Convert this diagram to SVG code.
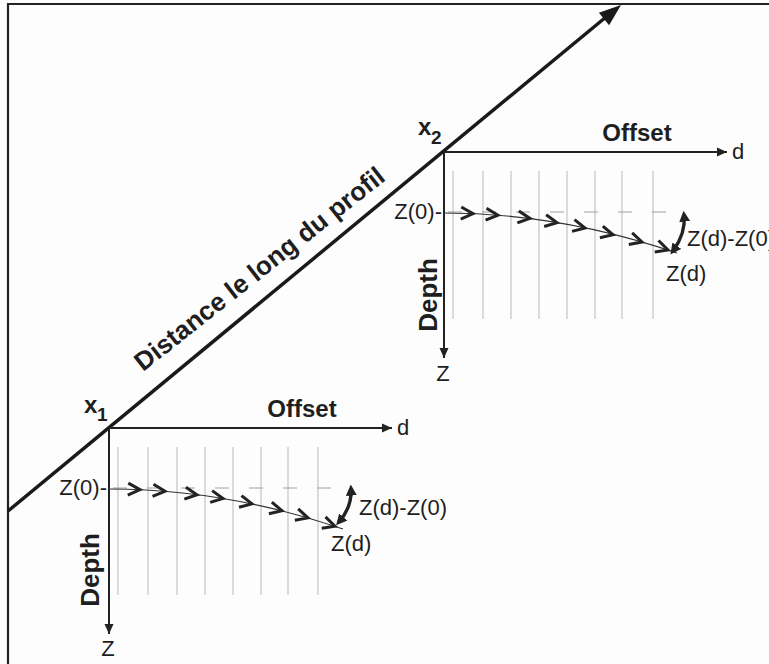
<svg xmlns="http://www.w3.org/2000/svg" width="769" height="664" viewBox="0 0 769 664">
<defs>
<style>
.lbl{font-family:"Liberation Sans",Arial,sans-serif;font-size:22px;fill:#1e1e1e}
.bold{font-family:"Liberation Sans",Arial,sans-serif;font-weight:bold;fill:#1e1e1e}
.axis{stroke:#222;stroke-width:2;fill:none}
.grid{stroke:#b8b8b8;stroke-width:1;fill:none}
.dash{stroke:#a0a0a0;stroke-width:1;stroke-dasharray:14 20;fill:none}
.curve{stroke:#333;stroke-width:1.2;fill:none}
.chev{stroke:#222;stroke-width:3;fill:none;stroke-linejoin:miter;stroke-linecap:butt}
.dbl{stroke:#222;stroke-width:3.4;fill:none;marker-start:url(#hd);marker-end:url(#hd)}
</style>
<marker id="ah" viewBox="0 0 10 10" refX="10" refY="5" markerWidth="10" markerHeight="10" markerUnits="userSpaceOnUse" orient="auto">
<path d="M0,0.5 L10,5 L0,9.5 Z" fill="#222"/>
</marker>
<marker id="hd" viewBox="0 0 10 10" refX="6" refY="5" markerWidth="11" markerHeight="11" markerUnits="userSpaceOnUse" orient="auto-start-reverse">
<path d="M0,0 L10,5 L0,10 Z" fill="#222"/>
</marker>
<path id="chv" d="M-12,-6 L0,0 L-12,6"/>
</defs>
<rect x="0" y="0" width="769" height="664" fill="#fdfdfd"/>
<g id="frame">
<path d="M8,664 L8,4 L769,4" fill="none" stroke="#222" stroke-width="2.2"/>
</g>
<g id="connectors">
<line x1="8" y1="511" x2="606" y2="17" stroke="#1a1a1a" stroke-width="3.5"/>
<polygon points="621,5 609.1,25.2 598.9,12.8" fill="#1a1a1a"/>
</g>
<g id="profile-label">
<text class="bold" font-size="26" transform="translate(143,372) rotate(-38.3)">Distance le long du profil</text>
</g>
<g id="station-x1">
<text class="bold" font-size="24" x="84" y="413">x</text>
<text class="bold" font-size="19" x="97" y="421">1</text>
<line class="axis" x1="109" y1="428" x2="392" y2="428" marker-end="url(#ah)"/>
<line class="axis" x1="109" y1="428" x2="109" y2="634" marker-end="url(#ah)"/>
<text class="bold" font-size="24" x="302" y="417" text-anchor="middle">Offset</text>
<text class="lbl" x="397" y="435">d</text>
<text class="lbl" x="108" y="656" text-anchor="middle">Z</text>
<text class="bold" font-size="26" transform="translate(99,570) rotate(-90)" text-anchor="middle">Depth</text>
<g class="grid">
<line x1="118" y1="447" x2="118" y2="595"/><line x1="148" y1="447" x2="148" y2="595"/>
<line x1="177" y1="447" x2="177" y2="595"/><line x1="205" y1="447" x2="205" y2="595"/>
<line x1="233" y1="447" x2="233" y2="595"/><line x1="261" y1="447" x2="261" y2="595"/>
<line x1="288" y1="447" x2="288" y2="595"/><line x1="318" y1="447" x2="318" y2="595"/>
</g>
<line class="dash" x1="113" y1="488" x2="350" y2="488"/>
<text class="lbl" x="107" y="495" text-anchor="end">Z(0)-</text>
<path class="curve" d="M109,489 Q226,489 343,529"/>
<g class="chev">
<use href="#chv" transform="translate(140,489.7) rotate(2.6)"/>
<use href="#chv" transform="translate(165,491.3) rotate(4.7)"/>
<use href="#chv" transform="translate(197,494.7) rotate(7.3)"/>
<use href="#chv" transform="translate(223,498.5) rotate(9.5)"/>
<use href="#chv" transform="translate(252,503.9) rotate(11.9)"/>
<use href="#chv" transform="translate(282,510.8) rotate(14.2)"/>
<use href="#chv" transform="translate(308,517.9) rotate(16.2)"/>
<use href="#chv" transform="translate(335,526.3) rotate(18.3)"/>
</g>
<path class="dbl" d="M339,522 Q352,507 351,489"/>
<text class="lbl" x="359" y="515">Z(d)-Z(0)</text>
<text class="lbl" x="331" y="551">Z(d)</text>
</g>
<g id="station-x2">
<text class="bold" font-size="24" x="418" y="135">x</text>
<text class="bold" font-size="19" x="431" y="144">2</text>
<line class="axis" x1="444" y1="152" x2="727" y2="152" marker-end="url(#ah)"/>
<line class="axis" x1="444" y1="152" x2="444" y2="358" marker-end="url(#ah)"/>
<text class="bold" font-size="24" x="637" y="141" text-anchor="middle">Offset</text>
<text class="lbl" x="732" y="159">d</text>
<text class="lbl" x="443" y="381" text-anchor="middle">Z</text>
<text class="bold" font-size="26" transform="translate(437,295) rotate(-90)" text-anchor="middle">Depth</text>
<g class="grid">
<line x1="453" y1="171" x2="453" y2="319"/><line x1="483" y1="171" x2="483" y2="319"/>
<line x1="511" y1="171" x2="511" y2="319"/><line x1="539" y1="171" x2="539" y2="319"/>
<line x1="567" y1="171" x2="567" y2="319"/><line x1="595" y1="171" x2="595" y2="319"/>
<line x1="622" y1="171" x2="622" y2="319"/><line x1="653" y1="171" x2="653" y2="319"/>
</g>
<line class="dash" x1="448" y1="212" x2="682" y2="212"/>
<text class="lbl" x="442" y="219" text-anchor="end">Z(0)-</text>
<path class="curve" d="M444,213 Q560,213 677,253"/>
<g class="chev">
<use href="#chv" transform="translate(473,213.6) rotate(2.6)"/>
<use href="#chv" transform="translate(498,215.2) rotate(4.7)"/>
<use href="#chv" transform="translate(530,218.4) rotate(7.3)"/>
<use href="#chv" transform="translate(557,222.6) rotate(9.5)"/>
<use href="#chv" transform="translate(585,228) rotate(11.9)"/>
<use href="#chv" transform="translate(613,234.8) rotate(14.2)"/>
<use href="#chv" transform="translate(642,242) rotate(16.2)"/>
<use href="#chv" transform="translate(668,250) rotate(18.3)"/>
</g>
<path class="dbl" d="M673,251 Q686,233 684,215"/>
<text class="lbl" x="687" y="246">Z(d)-Z(0)</text>
<text class="lbl" x="666" y="281">Z(d)</text>
</g>
</svg>
